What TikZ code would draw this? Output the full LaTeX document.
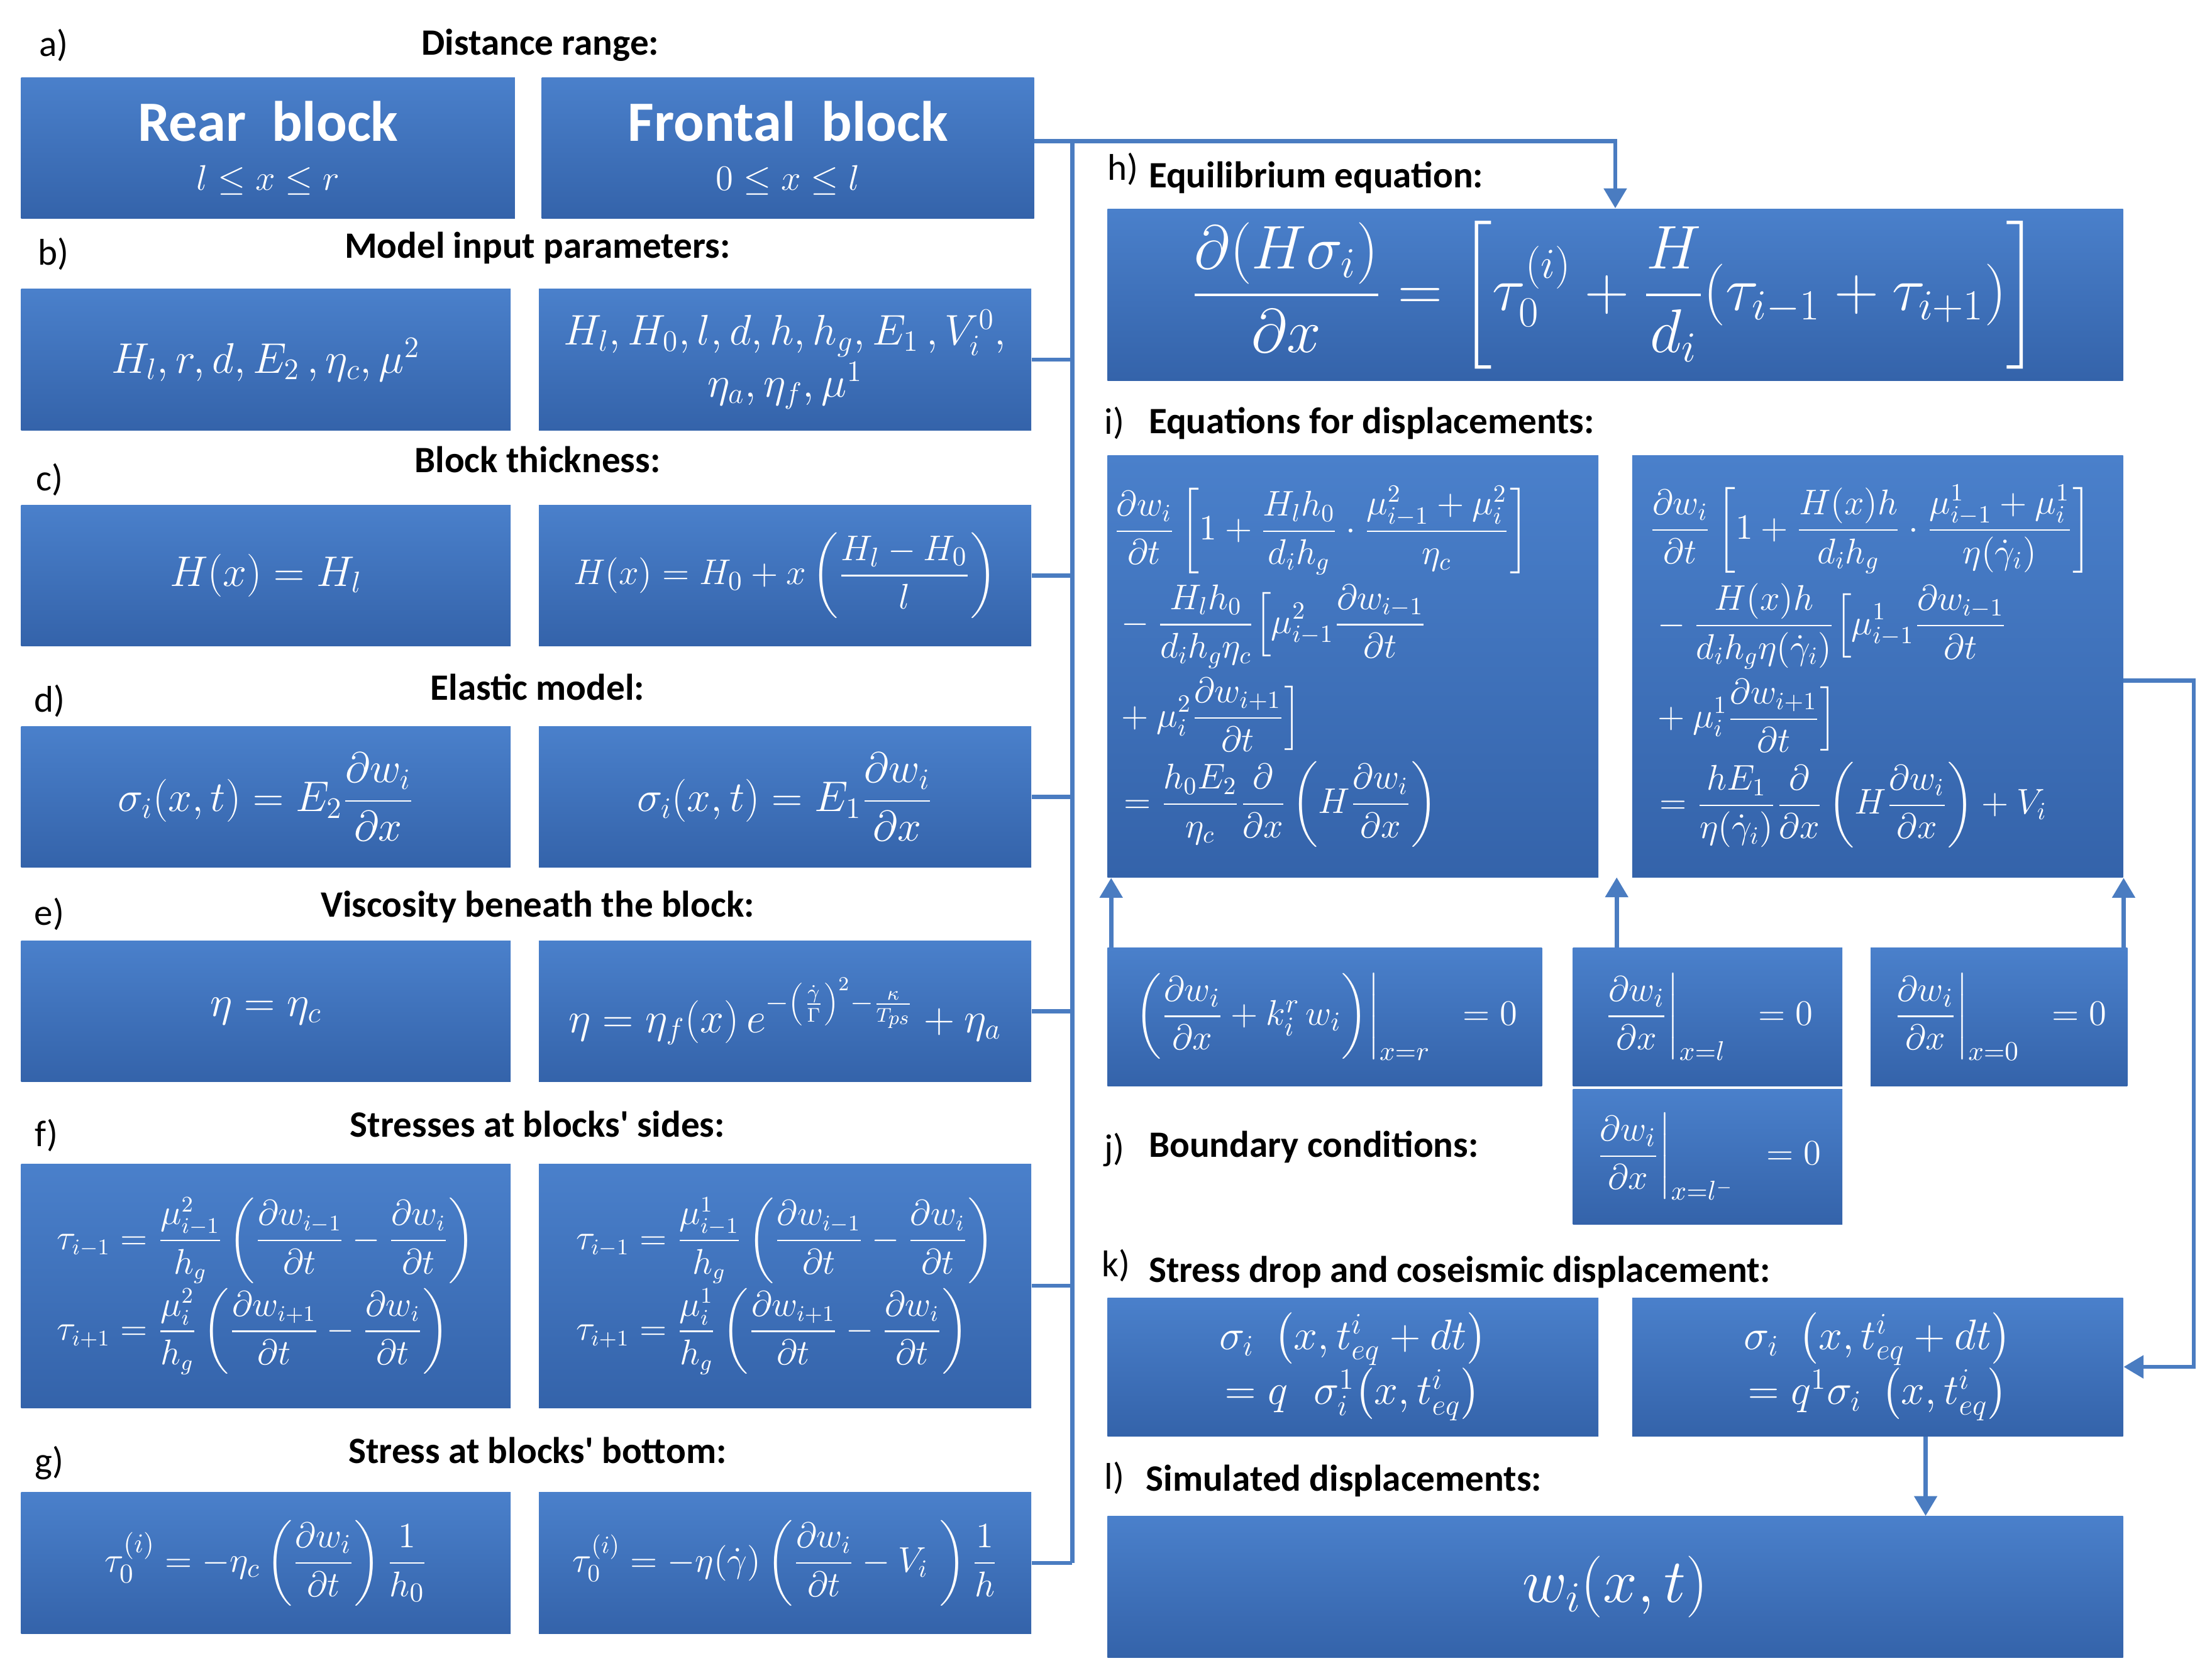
\documentclass[tikz,border=0pt]{standalone}
\usepackage{amsmath}
\usepackage{fontspec}
\newfontfamily\hd{Carlito}
\usetikzlibrary{arrows.meta}
\definecolor{bxtop}{HTML}{4A80CB}
\definecolor{bxbot}{HTML}{3463AA}
\definecolor{ln}{HTML}{4A7CC1}
\tikzset{
 box/.style={draw=none,top color=bxtop,bottom color=bxbot,text=white,inner sep=0pt,align=center,font=\fontsize{17}{21}\selectfont},
 hdr/.style={font=\hd\bfseries\fontsize{15}{17}\selectfont,inner sep=0pt},
 lbl/.style={font=\hd\fontsize{15}{17}\selectfont,inner sep=0pt},
 conn/.style={draw=ln,line width=1.7pt},
 arr/.style={conn,-{Triangle[length=8pt,width=9pt]}}
}
\newcommand\bx[6]{\node[box,minimum width={(#4-#2)*0.02cm},minimum height={(#5-#3)*0.02cm}] (#1) at ({(#2+#4)/2},{(#3+#5)/2}) {#6};}
\begin{document}
\begin{tikzpicture}[x=0.02cm,y=-0.02cm]
\useasboundingbox (0,0) rectangle (1568,1186);
% left column
\bx{ra}{15}{55}{365}{155}{{\hd\bfseries\fontsize{23}{26}\selectfont Rear\ \ block}\\[-1pt]{\fontsize{14}{16}\selectfont$l\le x\le r$}}
\bx{fa}{384}{55}{733}{155}{{\hd\bfseries\fontsize{23}{26}\selectfont Frontal\ \ block}\\[-1pt]{\fontsize{14}{16}\selectfont$0\le x\le l$}}
\bx{rb}{15}{205}{362}{305}{$H_l, r, d, E_2\,, \eta_c, \mu^2$}
\bx{fb}{382}{205}{731}{305}{$H_l, H_0, l, d, h, h_g, E_1\,, V_i^0,$\\$\eta_a, \eta_f, \mu^1$}
\bx{rc}{15}{358}{362}{458}{$H(x)=H_l$}
\bx{fc}{382}{358}{731}{458}{\fontsize{15}{18}\selectfont$H(x)=H_0+x\left(\dfrac{H_l-H_0}{l}\right)$}
\bx{rd}{15}{515}{362}{615}{$\sigma_i(x,t)=E_2\dfrac{\partial w_i}{\partial x}$}
\bx{fd}{382}{515}{731}{615}{$\sigma_i(x,t)=E_1\dfrac{\partial w_i}{\partial x}$}
\bx{re}{15}{667}{362}{767}{$\eta=\eta_c$}
\bx{fe}{382}{667}{731}{767}{$\eta=\eta_f(x)\,e^{-\left(\frac{\dot\gamma}{\Gamma}\right)^2-\frac{\kappa}{T_{ps}}}+\eta_a$}
\bx{rf}{15}{825}{362}{998}{\fontsize{13.5}{16}\selectfont$\begin{aligned}\tau_{i-1}&=\frac{\mu^2_{i-1}}{h_g}\left(\frac{\partial w_{i-1}}{\partial t}-\frac{\partial w_i}{\partial t}\right)\\[-2pt]\tau_{i+1}&=\frac{\mu^2_{i}}{h_g}\left(\frac{\partial w_{i+1}}{\partial t}-\frac{\partial w_i}{\partial t}\right)\end{aligned}$}
\bx{ff}{382}{825}{731}{998}{\fontsize{13.5}{16}\selectfont$\begin{aligned}\tau_{i-1}&=\frac{\mu^1_{i-1}}{h_g}\left(\frac{\partial w_{i-1}}{\partial t}-\frac{\partial w_i}{\partial t}\right)\\[-2pt]\tau_{i+1}&=\frac{\mu^1_{i}}{h_g}\left(\frac{\partial w_{i+1}}{\partial t}-\frac{\partial w_i}{\partial t}\right)\end{aligned}$}
\bx{rg}{15}{1058}{362}{1158}{\fontsize{15}{18}\selectfont$\tau_0^{(i)}=-\eta_c\left(\dfrac{\partial w_i}{\partial t}\right)\dfrac{1}{h_0}$}
\bx{fg}{382}{1058}{731}{1158}{\fontsize{14}{17}\selectfont$\tau_0^{(i)}=-\eta(\dot\gamma)\left(\dfrac{\partial w_i}{\partial t}-V_i\ \right)\dfrac{1}{h}$}
% right column
\bx{eq}{785}{148}{1505}{270}{\fontsize{23}{27}\selectfont$\dfrac{\partial(H\sigma_i)}{\partial x}=\left[\tau_0^{(i)}+\dfrac{H}{d_i}(\tau_{i-1}+\tau_{i+1})\right]$}
\bx{ia}{785}{323}{1133}{622}{\fontsize{14.5}{17}\selectfont$\displaystyle\begin{aligned}&\frac{\partial w_i}{\partial t}\left[1+\frac{H_lh_0}{d_ih_g}\cdot\frac{\mu^2_{i-1}+\mu^2_i}{\eta_c}\right]\\&-\frac{H_lh_0}{d_ih_g\eta_c}\Big[\mu^2_{i-1}\frac{\partial w_{i-1}}{\partial t}\\&+\mu^2_i\frac{\partial w_{i+1}}{\partial t}\Big]\\&=\frac{h_0E_2}{\eta_c}\frac{\partial}{\partial x}\left(H\frac{\partial w_i}{\partial x}\right)\end{aligned}\hspace{0.9cm}$}
\bx{ib}{1157}{323}{1505}{622}{\fontsize{14.5}{17}\selectfont$\displaystyle\begin{aligned}&\frac{\partial w_i}{\partial t}\left[1+\frac{H(x)h}{d_ih_g}\cdot\frac{\mu^1_{i-1}+\mu^1_i}{\eta(\dot\gamma_i)}\right]\\&-\frac{H(x)h}{d_ih_g\eta(\dot\gamma_i)}\Big[\mu^1_{i-1}\frac{\partial w_{i-1}}{\partial t}\\&+\mu^1_i\frac{\partial w_{i+1}}{\partial t}\Big]\\&=\frac{hE_1}{\eta(\dot\gamma_i)}\frac{\partial}{\partial x}\left(H\frac{\partial w_i}{\partial x}\right)+V_i\end{aligned}\hspace{0.2cm}$}
\bx{ja}{785}{672}{1093}{770}{\fontsize{15}{18}\selectfont$\left.\left(\dfrac{\partial w_i}{\partial x}+k_i^r\,w_i\right)\right|_{x=r}\ \ =0$}
\bx{jb}{1115}{672}{1306}{770}{\fontsize{15}{18}\selectfont$\left.\dfrac{\partial w_i}{\partial x}\right|_{x=l}\ \ =0$}
\bx{jc}{1115}{772}{1306}{868}{\fontsize{15}{18}\selectfont$\left.\dfrac{\partial w_i}{\partial x}\right|_{x=l^-}\ \ =0$}
\bx{jd}{1326}{672}{1508}{770}{\fontsize{15}{18}\selectfont$\left.\dfrac{\partial w_i}{\partial x}\right|_{x=0}\ \ =0$}
\bx{ka}{785}{920}{1133}{1018}{$\sigma_i\ \left(x,t^i_{eq}+dt\right)$\\$=q\ \ \sigma^1_i\!\left(x,t^i_{eq}\right)$}
\bx{kb}{1157}{920}{1505}{1018}{$\sigma_i\ \left(x,t^i_{eq}+dt\right)$\\$=q^1\sigma_i\ \left(x,t^i_{eq}\right)$}
\bx{ll}{785}{1075}{1505}{1175}{\fontsize{24}{28}\selectfont$w_i(x,t)$}
% labels
\node[lbl] at (38,32) {a)}; \node[hdr] at (383,32) {Distance range:};
\node[lbl] at (38,180) {b)}; \node[hdr] at (381,176) {Model input parameters:};
\node[lbl] at (35,340) {c)}; \node[hdr] at (381,326) {Block thickness:};
\node[lbl] at (35,497) {d)}; \node[hdr] at (381,487) {Elastic model:};
\node[lbl] at (35,648) {e)}; \node[hdr] at (381,643) {Viscosity beneath the block:};
\node[lbl] at (33,805) {f)}; \node[hdr] at (381,797) {Stresses at blocks' sides:};
\node[lbl] at (35,1037) {g)}; \node[hdr] at (381,1028) {Stress at blocks' bottom:};
\node[lbl] at (796,120) {h)}; \node[hdr,anchor=west] at (814,126) {Equilibrium equation:};
\node[lbl] at (790,300) {i)}; \node[hdr,anchor=west] at (814,300) {Equations for displacements:};
\node[lbl] at (790,815) {j)}; \node[hdr,anchor=west] at (814,813) {Boundary conditions:};
\node[lbl] at (791,897) {k)}; \node[hdr,anchor=west] at (814,902) {Stress drop and coseismic displacement:};
\node[lbl] at (790,1048) {l)}; \node[hdr,anchor=west] at (812,1050) {Simulated displacements:};
% connectors
\coordinate (bus) at (760,0);
\coordinate (bt) at (760,100);
\coordinate (bb) at (760,1108);
\coordinate (gap) at (1146,622);
\coordinate (c1) at (1555,0);
\coordinate (c2) at (1365,0);
\draw[arr] (fa.east|-bt) -| (eq.north);
\draw[conn] (bt) -- (bb);
\foreach \n in {fb,fc,fd,fe,ff,fg} \draw[conn] (\n.east) -- (\n.east -| bus);
\draw[arr] ([xshift=0.06cm]ja.north west) -- ([xshift=0.06cm]ia.south west);
\draw[arr] (jb.north -| gap) -- (gap);
\draw[arr] ([xshift=-0.06cm]jd.north east) -- ([xshift=-0.06cm]jd.north east |- ib.south);
\draw[arr] ([yshift=-0.2cm]ib.east) -- ([yshift=-0.2cm]ib.east -| c1) |- (kb.east);
\draw[arr] (kb.south -| c2) -- (ll.north -| c2);
\end{tikzpicture}
\end{document}
